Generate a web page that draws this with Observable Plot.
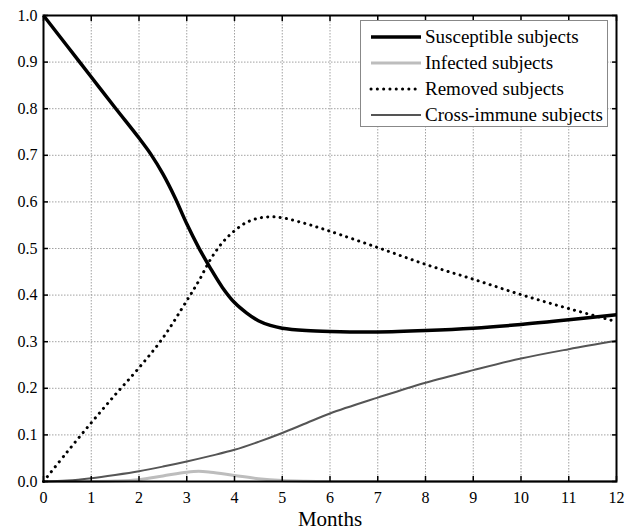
<!DOCTYPE html>
<html>
<head>
<meta charset="utf-8">
<script src="https://cdn.jsdelivr.net/npm/d3@7"></script>
<script src="https://cdn.jsdelivr.net/npm/@observablehq/plot@0.6"></script>
<style>
  html, body { margin: 0; padding: 0; background: #fff; }
  #wrap { position: relative; width: 633px; height: 532px; font-family: "Liberation Serif", "Times New Roman", serif; }
  #legend { position: absolute; left: 360px; top: 20px; background: #fff; border: 1px solid #888; }
</style>
</head>
<body>
<div id="wrap"><div id="chart"></div><div id="legend"></div></div>
<script>
// ---- data ----
const susceptibleMonths = [0, 0.5, 1, 1.5, 2, 2.25, 2.5, 2.75, 3, 3.25, 3.5, 3.75, 4, 4.25, 4.5, 4.75, 5, 5.5, 6, 7, 8, 9, 10, 11, 12];
const susceptibleValues = [1.0, 0.934, 0.868, 0.802, 0.737, 0.702, 0.660, 0.610, 0.553, 0.502, 0.457, 0.416, 0.384, 0.362, 0.345, 0.335, 0.329, 0.324, 0.322, 0.321, 0.324, 0.329, 0.337, 0.347, 0.358];

const infectedMonths = [0, 1, 1.5, 2, 2.5, 3, 3.25, 3.5, 4, 4.5, 5, 5.5, 6, 7, 8, 9, 10, 11, 12];
const infectedValues = [0, 0, 0.001, 0.004, 0.012, 0.020, 0.022, 0.020, 0.013, 0.006, 0.002, 0.0005, 0, 0, 0, 0, 0, 0, 0];

const removedMonths = [0, 0.5, 1, 1.5, 2, 2.5, 3, 3.25, 3.5, 3.75, 4, 4.25, 4.5, 4.75, 5, 5.5, 6, 7, 8, 9, 10, 11, 12];
const removedValues = [0, 0.064, 0.126, 0.186, 0.244, 0.308, 0.388, 0.430, 0.477, 0.513, 0.538, 0.556, 0.565, 0.568, 0.566, 0.553, 0.537, 0.502, 0.466, 0.434, 0.401, 0.371, 0.343];

const crossMonths = [0, 0.5, 1, 1.5, 2, 2.5, 3, 3.5, 4, 4.5, 5, 5.5, 6, 7, 8, 9, 10, 11, 12];
const crossValues = [0, 0.002, 0.007, 0.014, 0.022, 0.032, 0.043, 0.055, 0.068, 0.085, 0.104, 0.125, 0.146, 0.180, 0.212, 0.239, 0.264, 0.284, 0.302];

const seriesNames = ["Susceptible subjects", "Infected subjects", "Removed subjects", "Cross-immune subjects"];
const xTicks = [0, 1, 2, 3, 4, 5, 6, 7, 8, 9, 10, 11, 12];
const yTicks = [0, 0.1, 0.2, 0.3, 0.4, 0.5, 0.6, 0.7, 0.8, 0.9, 1.0];
const xLabel = "Months";

// ---- styles ----
const styles = [
  {stroke: "#000", strokeWidth: 3.5, dash: null},
  {stroke: "#bdbdbd", strokeWidth: 3, dash: null},
  {stroke: "#000", strokeWidth: 3, dash: "0.1,6.2", cap: "round"},
  {stroke: "#555", strokeWidth: 2, dash: null}
];

const toRows = (ms, vs) => ms.map((m, i) => ({month: m, value: vs[i]}));
const series = [
  toRows(susceptibleMonths, susceptibleValues),
  toRows(infectedMonths, infectedValues),
  toRows(removedMonths, removedValues),
  toRows(crossMonths, crossValues)
];

const font = "Liberation Serif";
const lineMarks = [1, 3, 2, 0].map(i => Plot.line(series[i], {
  x: "month", y: "value", curve: "catmull-rom",
  stroke: styles[i].stroke, strokeWidth: styles[i].strokeWidth,
  strokeDasharray: styles[i].dash, strokeLinecap: styles[i].cap || "butt"
}));

const chart = Plot.plot({
  width: 633, height: 532,
  marginLeft: 43, marginRight: 17, marginTop: 15, marginBottom: 51,
  style: {fontFamily: font, fontSize: "16px", color: "#000", background: "#fff", overflow: "visible"},
  x: {domain: [0, 12]},
  y: {domain: [0, 1]},
  marks: [
    Plot.gridX(xTicks, {stroke: "#8a8a8a", strokeOpacity: 1, strokeWidth: 0.8, strokeDasharray: "1.5,1.5"}),
    Plot.gridY(yTicks, {stroke: "#8a8a8a", strokeOpacity: 1, strokeWidth: 0.8, strokeDasharray: "1.5,1.5"}),
    ...lineMarks,
    Plot.axisX(xTicks, {anchor: "bottom", tickSize: 0, tickPadding: 10, fontSize: 16, fontFamily: font, label: xLabel, labelAnchor: "center", labelArrow: "none", labelOffset: 44, fill: "#000"}),
    Plot.axisX(xTicks, {anchor: "bottom", tickSize: -5, tickFormat: () => "", label: null, strokeWidth: 1.5}),
    Plot.axisX(xTicks, {anchor: "top", tickSize: -5, tickFormat: () => "", label: null, strokeWidth: 1.5}),
    Plot.axisY(yTicks, {anchor: "left", tickSize: 0, tickPadding: 6, fontSize: 16, fontFamily: font, tickFormat: d3.format(".1f"), label: null, fill: "#000"}),
    Plot.axisY(yTicks, {anchor: "left", tickSize: -5, tickFormat: () => "", label: null, strokeWidth: 1.5}),
    Plot.axisY(yTicks, {anchor: "right", tickSize: -5, tickFormat: () => "", label: null, strokeWidth: 1.5}),
    Plot.frame({stroke: "#000", strokeWidth: 2})
  ]
});
document.getElementById("chart").appendChild(chart);
chart.querySelectorAll("text").forEach(t => t.setAttribute("font-family", font));
// bump x-label font size
chart.querySelectorAll("g[aria-label='x-axis label'] text").forEach(t => t.setAttribute("font-size", "21"));

// ---- legend ----
const lw = 246, lh = 105;
const ns = "http://www.w3.org/2000/svg";
const lsvg = document.createElementNS(ns, "svg");
lsvg.setAttribute("width", lw); lsvg.setAttribute("height", lh);
lsvg.style.display = "block";
seriesNames.forEach((name, i) => {
  const y = 16 + i * 26;
  const ln = document.createElementNS(ns, "line");
  ln.setAttribute("x1", 10); ln.setAttribute("x2", 60);
  ln.setAttribute("y1", y); ln.setAttribute("y2", y);
  ln.setAttribute("stroke", styles[i].stroke);
  ln.setAttribute("stroke-width", styles[i].strokeWidth);
  if (styles[i].dash) ln.setAttribute("stroke-dasharray", styles[i].dash);
  ln.setAttribute("stroke-linecap", styles[i].cap || "butt");
  lsvg.appendChild(ln);
  const tx = document.createElementNS(ns, "text");
  tx.setAttribute("x", 64); tx.setAttribute("y", y);
  tx.setAttribute("dy", "0.33em");
  tx.setAttribute("font-family", font);
  tx.setAttribute("font-size", "19");
  tx.textContent = name;
  lsvg.appendChild(tx);
});
document.getElementById("legend").appendChild(lsvg);
</script>
</body>
</html>
